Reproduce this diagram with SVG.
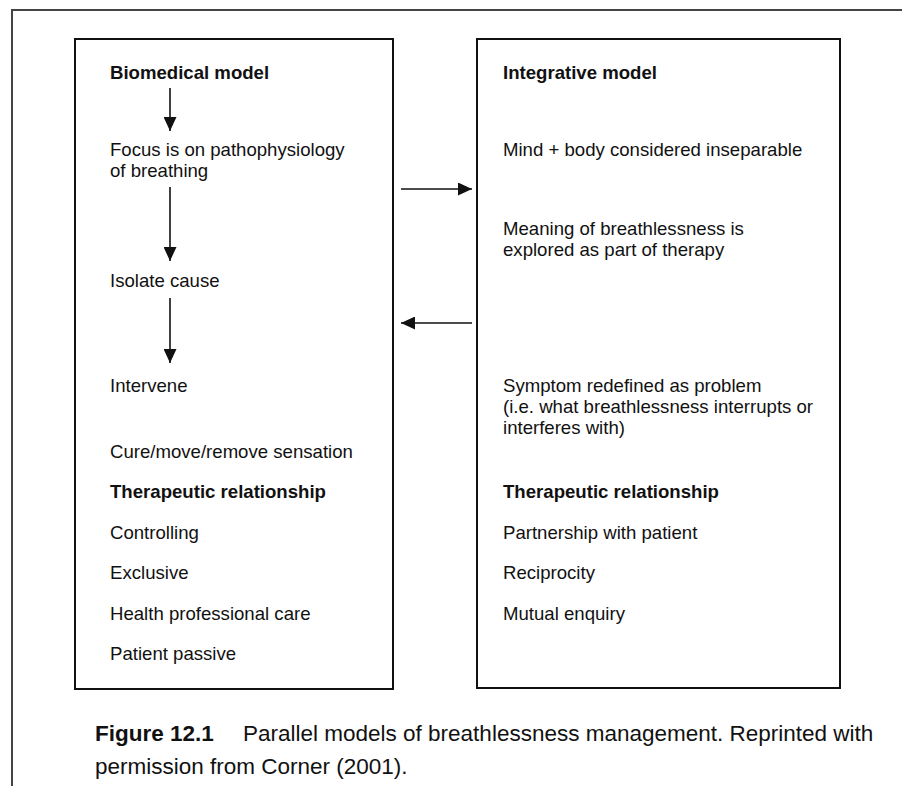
<svg xmlns="http://www.w3.org/2000/svg" width="902" height="786" viewBox="0 0 902 786">
<style>
text{font-family:"Liberation Sans",Arial,Helvetica,sans-serif;fill:#111;}
.t{font-size:18.6px;}
.b{font-size:18.6px;font-weight:bold;}
.cap{font-size:22.5px;}
.box{fill:#fff;stroke:#111;stroke-width:2;}
.ln{stroke:#111;stroke-width:1.6;fill:none;}
.frame{stroke:#444;stroke-width:2;fill:none;}
</style>
<defs>
<marker id="ah" viewBox="0 0 10 10" refX="10" refY="5" markerWidth="14" markerHeight="13" markerUnits="userSpaceOnUse" orient="auto" preserveAspectRatio="none">
<path d="M0,0 L10,5 L0,10 z" fill="#111"/>
</marker>
</defs>
<rect width="902" height="786" fill="#fff"/>
<path class="frame" d="M12,786 V10 H902"/>
<g id="biomedical">
<rect class="box" x="75" y="39" width="318" height="650"/>
<text class="b" x="110" y="79">Biomedical model</text>
<text class="t" x="110" y="156">Focus is on pathophysiology</text>
<text class="t" x="110" y="177">of breathing</text>
<text class="t" x="110" y="287">Isolate cause</text>
<text class="t" x="110" y="392">Intervene</text>
<text class="t" x="110" y="458">Cure/move/remove sensation</text>
<text class="b" x="110" y="498">Therapeutic relationship</text>
<text class="t" x="110" y="539">Controlling</text>
<text class="t" x="110" y="579">Exclusive</text>
<text class="t" x="110" y="620">Health professional care</text>
<text class="t" x="110" y="660">Patient passive</text>
</g>
<g id="integrative">
<rect class="box" x="477" y="39" width="363" height="649"/>
<text class="b" x="503" y="79">Integrative model</text>
<text class="t" x="503" y="156">Mind + body considered inseparable</text>
<text class="t" x="503" y="235">Meaning of breathlessness is</text>
<text class="t" x="503" y="256">explored as part of therapy</text>
<text class="t" x="503" y="392">Symptom redefined as problem</text>
<text class="t" x="503" y="413">(i.e. what breathlessness interrupts or</text>
<text class="t" x="503" y="434">interferes with)</text>
<text class="b" x="503" y="498">Therapeutic relationship</text>
<text class="t" x="503" y="539">Partnership with patient</text>
<text class="t" x="503" y="579">Reciprocity</text>
<text class="t" x="503" y="620">Mutual enquiry</text>
</g>
<g id="connectors">
<line class="ln" x1="170" y1="88" x2="170" y2="131" marker-end="url(#ah)"/>
<line class="ln" x1="170" y1="187" x2="170" y2="261" marker-end="url(#ah)"/>
<line class="ln" x1="170" y1="298" x2="170" y2="363" marker-end="url(#ah)"/>
<line class="ln" x1="401" y1="189" x2="472" y2="189" marker-end="url(#ah)"/>
<line class="ln" x1="472" y1="323" x2="401" y2="323" marker-end="url(#ah)"/>
</g>
<g id="caption">
<text class="cap" x="95" y="741"><tspan font-weight="bold">Figure 12.1</tspan><tspan x="243">Parallel models of breathlessness management. Reprinted with</tspan></text>
<text class="cap" x="95" y="774">permission from Corner (2001).</text>
</g>
</svg>
